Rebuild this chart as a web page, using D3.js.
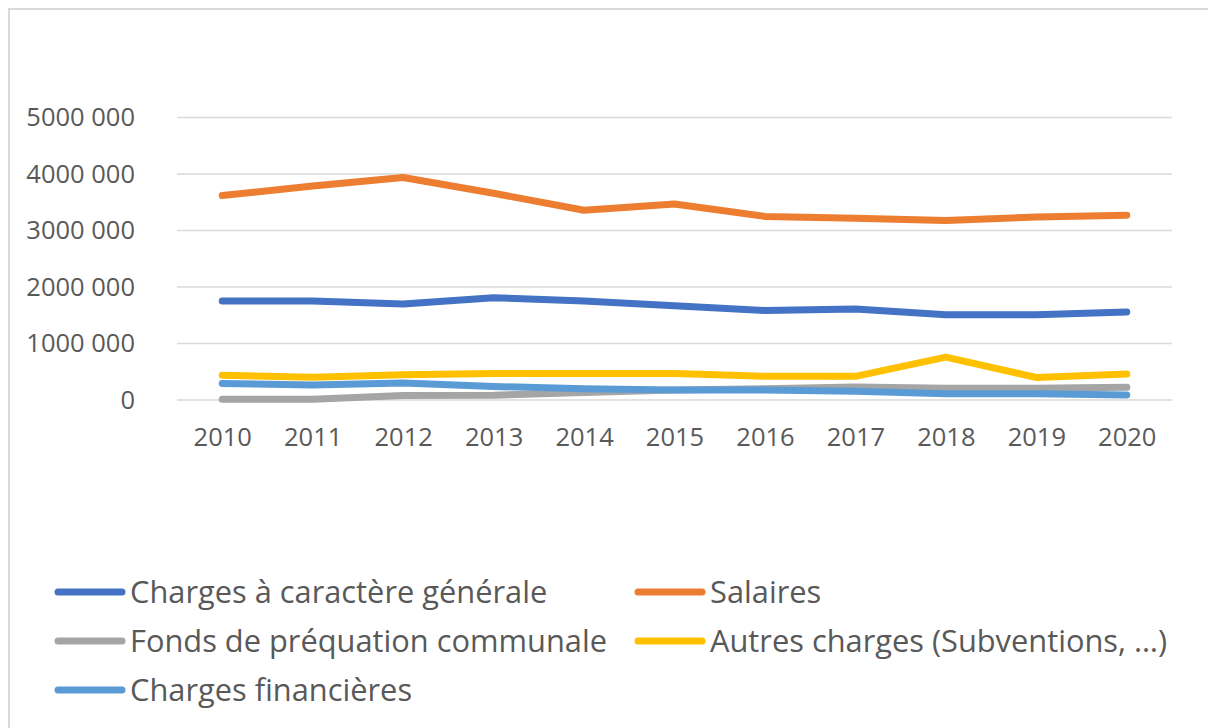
<!DOCTYPE html>
<html>
<head>
<meta charset="utf-8">
<script src="https://cdn.jsdelivr.net/npm/d3@7"></script>
<style>
  body { margin: 0; background: #fff; }
  text { font-family: "Open Sans", Lato, sans-serif; fill: #595959; }
</style>
</head>
<body>
<div class="chart"></div>
<script>
// data
var years = ["2010", "2011", "2012", "2013", "2014", "2015", "2016", "2017", "2018", "2019", "2020"];
var chargesGenerales = [1745000, 1745000, 1690000, 1800000, 1745000, 1660000, 1575000, 1600000, 1500000, 1500000, 1550000];
var salaires = [3610000, 3780000, 3930000, 3650000, 3350000, 3460000, 3240000, 3210000, 3170000, 3230000, 3260000];
var fondsPerequation = [5000, 5000, 70000, 75000, 125000, 170000, 190000, 220000, 200000, 200000, 215000];
var autresCharges = [430000, 395000, 440000, 460000, 460000, 460000, 410000, 410000, 750000, 390000, 450000];
var chargesFinancieres = [285000, 255000, 290000, 230000, 190000, 170000, 170000, 145000, 100000, 100000, 80000];
var seriesNames = ["Charges à caractère générale", "Salaires", "Fonds de préquation communale", "Autres charges (Subventions, …)", "Charges financières"];
var seriesColors = ["#4472c4", "#ed7d31", "#a5a5a5", "#ffc000", "#5b9bd5"];
var yTicks = [0, 1000000, 2000000, 3000000, 4000000, 5000000];
var yTickLabels = ["0", "1000 000", "2000 000", "3000 000", "4000 000", "5000 000"];

var allSeries = [chargesGenerales, salaires, fondsPerequation, autresCharges, chargesFinancieres];

var width = 1208, height = 728;
var plot = { left: 177, right: 1172, top: 117, bottom: 399.5 };

var svg = d3.select(".chart")
  .append("svg")
  .attr("width", width)
  .attr("height", height);

// outer chart frame
svg.append("rect")
  .attr("x", 9).attr("y", 9)
  .attr("width", width + 20).attr("height", height + 20)
  .attr("fill", "#fff")
  .attr("stroke", "#d9d9d9")
  .attr("stroke-width", 2);

var x = d3.scalePoint()
  .domain(years)
  .range([plot.left, plot.right])
  .padding(0.5);

var y = d3.scaleLinear()
  .domain([0, 5000000])
  .range([plot.bottom, plot.top]);

// gridlines + y labels
var yAxis = d3.axisLeft(y)
  .tickValues(yTicks)
  .tickSize(-(plot.right - plot.left))
  .tickPadding(42)
  .tickFormat(function (d, i) { return yTickLabels[i]; });

var gy = svg.append("g")
  .attr("transform", "translate(" + plot.left + ",0)")
  .call(yAxis);
gy.select(".domain").remove();
gy.selectAll(".tick line").attr("stroke", "#d9d9d9").attr("stroke-width", 1.6);
gy.selectAll(".tick text")
  .style("font-size", "25.5px")
  .attr("dy", "0.35em");

// x labels
var xAxis = d3.axisBottom(x).tickSize(0).tickPadding(38);
var gx = svg.append("g")
  .attr("transform", "translate(0," + plot.bottom + ")")
  .call(xAxis);
gx.select(".domain").remove();
gx.selectAll(".tick text")
  .style("font-size", "25.5px")
  .attr("dy", "0.35em");

// lines
var line = d3.line()
  .x(function (d, i) { return x(years[i]); })
  .y(function (d) { return y(d); });

svg.selectAll(".series")
  .data(allSeries)
  .enter()
  .append("path")
  .attr("class", "series")
  .attr("d", line)
  .attr("fill", "none")
  .attr("stroke", function (d, i) { return seriesColors[i]; })
  .attr("stroke-width", 7)
  .attr("stroke-linecap", "round")
  .attr("stroke-linejoin", "round");

// legend
var legend = svg.selectAll(".legend")
  .data(seriesNames)
  .enter()
  .append("g")
  .attr("class", "legend")
  .attr("transform", function (d, i) {
    return "translate(" + (i % 2 == 0 ? 55 : 635) + "," + (592 + Math.floor(i / 2) * 49) + ")";
  });

legend.append("line")
  .attr("x1", 3).attr("x2", 67)
  .attr("stroke", function (d, i) { return seriesColors[i]; })
  .attr("stroke-width", 7)
  .attr("stroke-linecap", "round");

legend.append("text")
  .attr("x", 75)
  .attr("dy", "0.35em")
  .style("font-size", "30.8px")
  .text(function (d) { return d; });
</script>
</body>
</html>
